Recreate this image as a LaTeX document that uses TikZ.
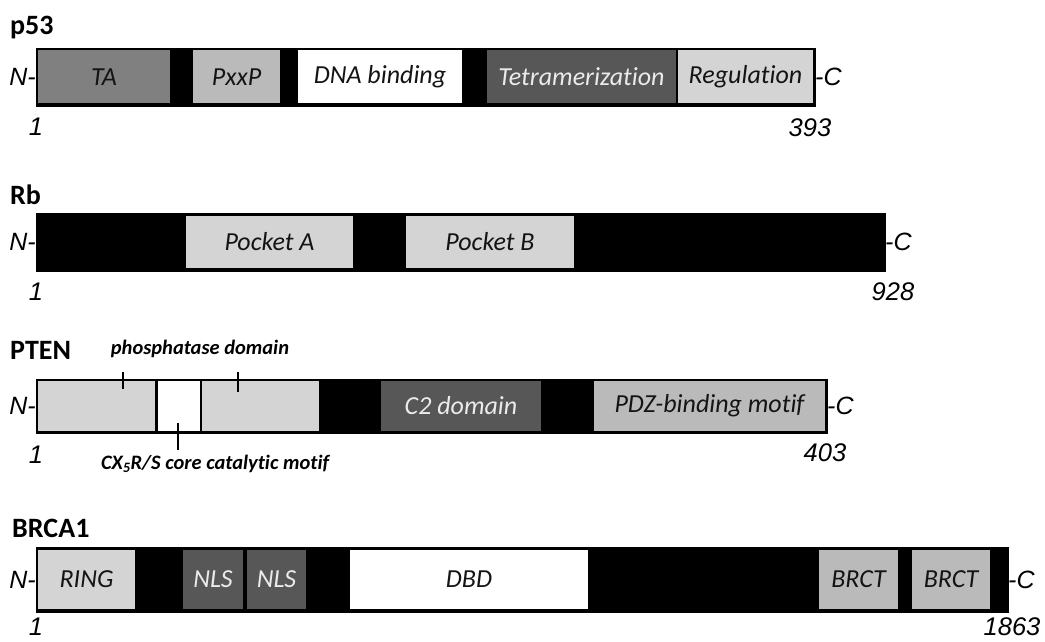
\documentclass[tikz,border=0pt]{standalone}
\usepackage{fontspec}
\setmainfont{Carlito}[Ligatures=NoCommon]
\newfontfamily\numfont{Liberation Sans}
\begin{document}
\begin{tikzpicture}[x=1pt,y=-1pt,
  bar/.style={fill=black,draw=black,line width=0.8pt,inner sep=0pt,outer sep=0pt,rectangle},
  dom/.style={inner sep=0pt,outer sep=0pt,rectangle,font=\fontsize{26}{29}\selectfont\itshape,text=black!92},
  light/.style={fill=black!17},
  mid/.style={fill=black!27},
  grey/.style={fill=black!50},
  dark/.style={fill=black!66,text=black!8},
  white/.style={fill=white},
  title/.style={anchor=west,inner sep=0pt,font=\fontsize{28}{31}\selectfont\bfseries},
  num/.style={inner sep=0pt,font=\fontsize{25.5}{28}\numfont\itshape},
  term/.style={inner sep=0pt,font=\fontsize{25}{28}\numfont\itshape},
  note/.style={inner sep=0pt,font=\fontsize{20.5}{23}\selectfont\bfseries\itshape},
  tick/.style={line width=1.2pt}]
\useasboundingbox (0,0) rectangle (1045,642);
% ---------------- p53
\node[title] (t53) at (10,28) {p53};
\node[bar,minimum width=779pt,minimum height=58pt] (b53) at (425.5,77) {};
\node[dom,grey,minimum width=132pt,minimum height=53pt] (ta) at (104,77) {TA};
\node[dom,mid,minimum width=87pt,minimum height=53pt] (pxxp) at (236.5,77) {PxxP};
\node[dom,white,minimum width=164pt,minimum height=53pt] (dna) at (380,77) {DNA binding};
\node[dom,dark,minimum width=189pt,minimum height=53pt] (tet) at (581.5,77) {Tetramerization};
\node[dom,light,minimum width=135pt,minimum height=53pt] (reg) at (745.5,77) {Regulation};
\node[term,anchor=east] (n53) at (b53.west) {N-};
\node[term,anchor=west] (c53) at (b53.east) {-C};
\node[num] (s53) at (36,127) {1};
\node[num] (e53) at (810,128) {393};
% ---------------- Rb
\node[title] (trb) at (10,195) {Rb};
\node[bar,minimum width=849pt,minimum height=58pt] (brb) at (460.5,242) {};
\node[dom,light,minimum width=167pt,minimum height=52pt] (pa) at (269.5,242) {Pocket A};
\node[dom,light,minimum width=168pt,minimum height=52pt] (pb) at (490,242) {Pocket B};
\node[term,anchor=east] (nrb) at (brb.west) {N-};
\node[term,anchor=west] (crb) at (brb.east) {-C};
\node[num] (srb) at (36,292) {1};
\node[num] (erb) at (893,292) {928};
% ---------------- PTEN
\node[title] (tpt) at (10,350) {PTEN};
\node[bar,minimum width=791pt,minimum height=54pt] (bpt) at (431.5,406) {};
\node[dom,light,minimum width=117pt,minimum height=50pt] (ph1) at (96.5,406) {};
\node[dom,white,minimum width=42pt,minimum height=50pt] (cx) at (179,406) {};
\node[dom,light,minimum width=117pt,minimum height=50pt] (ph2) at (260.5,406) {};
\node[dom,dark,minimum width=160pt,minimum height=50pt] (c2) at (461,406) {C2 domain};
\node[dom,mid,minimum width=231pt,minimum height=50pt] (pdz) at (709.5,406) {PDZ-binding motif};
\node[term,anchor=east] (npt) at (bpt.west) {N-};
\node[term,anchor=west] (cpt) at (bpt.east) {-C};
\node[num] (spt) at (36,455) {1};
\node[num] (ept) at (825,453) {403};
\node[note] (phl) at (200,349) {phosphatase domain};
\node[note] (cxl) at (215,464) {CX\textsubscript{5}R/S core catalytic motif};
\coordinate (k1a) at (123,372); \coordinate (k1b) at (123,389);
\coordinate (k2a) at (238,372); \coordinate (k2b) at (238,392);
\coordinate (k3a) at (178,423); \coordinate (k3b) at (178,450);
\draw[tick] (k1a) -- (k1b);
\draw[tick] (k2a) -- (k2b);
\draw[tick] (k3a) -- (k3b);
% ---------------- BRCA1
\node[title] (tbr) at (12,528) {BRCA1};
\node[bar,minimum width=972pt,minimum height=65pt] (bbr) at (522,579.5) {};
\node[dom,light,minimum width=97pt,minimum height=59pt] (ring) at (86.5,579.5) {RING};
\node[dom,dark,minimum width=60pt,minimum height=59pt] (nls1) at (213,579.5) {NLS};
\node[dom,dark,minimum width=59pt,minimum height=59pt] (nls2) at (276.5,579.5) {NLS};
\node[dom,white,minimum width=238pt,minimum height=59pt] (dbd) at (469,579.5) {DBD};
\node[dom,mid,minimum width=79pt,minimum height=59pt] (brct1) at (858.5,579.5) {BRCT};
\node[dom,mid,minimum width=78pt,minimum height=59pt] (brct2) at (951,579.5) {BRCT};
\node[term,anchor=east] (nbr) at (bbr.west) {N-};
\node[term,anchor=west] (cbr) at (bbr.east) {-C};
\node[num] (sbr) at (36,627) {1};
\node[num] (ebr) at (1012,627) {1863};
\end{tikzpicture}
\end{document}
